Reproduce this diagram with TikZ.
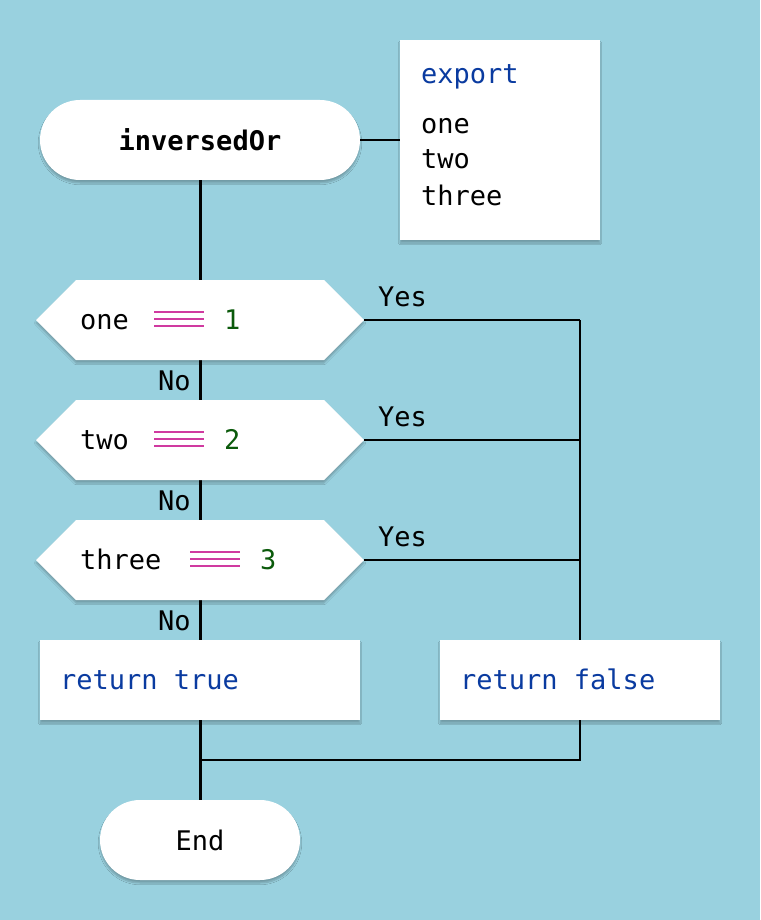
\documentclass[tikz,border=0pt]{standalone}
\usepackage{fontspec}
\setmonofont{DejaVu Sans Mono}
\usetikzlibrary{shadows.blur}
\definecolor{bg}{HTML}{99D1DF}
\definecolor{kw}{HTML}{0A3BA0}
\definecolor{num}{HTML}{0B5A0B}
\definecolor{eqc}{HTML}{D03AA0}
\begin{document}
\begin{tikzpicture}[x=1pt,y=-1pt,font=\ttfamily\fontsize{27}{30}\selectfont,
  shape box/.style={fill=white,blur shadow={shadow blur steps=6,shadow xshift=0pt,shadow yshift=-3pt,shadow opacity=25}},
  thin/.style={line width=1.3pt},
  thick line/.style={line width=3pt},
  lbl/.style={inner sep=0pt,anchor=base west}]
\fill[bg] (0,0) rectangle (760,920);
\useasboundingbox (0,0) rectangle (760,920);
% main line
\coordinate (mtop) at (200,180);
\coordinate (mbot) at (200,800);
\draw[thick line] (mtop)--(mbot);
% start
\node[shape box,rounded corners=40pt,minimum width=320pt,minimum height=80pt,font=\ttfamily\bfseries\fontsize{27}{30}\selectfont] (start) at (200,140) {inversedOr};
% export
\node[shape box,minimum width=200pt,minimum height=200pt] (exp) at (500,140) {};
\node[lbl,text=kw] at (421,84) {export};
\node[lbl] at (421,134) {one};
\node[lbl] at (421,169) {two};
\node[lbl] at (421,205) {three};
\draw[thin] (start.east)--(exp.west);
% decisions
\foreach \n/\yc in {d1/320,d2/440,d3/560}{
  \fill[white,blur shadow={shadow blur steps=6,shadow xshift=0pt,shadow yshift=-3pt,shadow opacity=25}] (36,\yc)--(76,\yc-40)--(324,\yc-40)--(364,\yc)--(324,\yc+40)--(76,\yc+40)--cycle;
  \coordinate (\n-l) at (364,\yc);
  \coordinate (\n-r) at (580,\yc);
  \draw[thin] (\n-l)--(\n-r);
  \node[lbl] at (378,\yc-14) {Yes};
  \node[lbl] at (158,\yc+70) {No};
}
\node[lbl] at (80,329) {one};
\draw[eqc,line width=1.8pt] (154,312)--(204,312) (154,319)--(204,319) (154,326)--(204,326);
\node[lbl,text=num] at (224,329) {1};
\node[lbl] at (80,449) {two};
\draw[eqc,line width=1.8pt] (154,432)--(204,432) (154,439)--(204,439) (154,446)--(204,446);
\node[lbl,text=num] at (224,449) {2};
\node[lbl] at (80,569) {three};
\draw[eqc,line width=1.8pt] (190,552)--(240,552) (190,559)--(240,559) (190,566)--(240,566);
\node[lbl,text=num] at (260,569) {3};
% returns
\node[shape box,minimum width=320pt,minimum height=80pt] (rt) at (200,680) {};
\node[lbl,text=kw] at (60,689) {return true};
\node[shape box,minimum width=280pt,minimum height=80pt] (rf) at (580,680) {};
\node[lbl,text=kw] at (460,689) {return false};
\draw[thin] (d1-r)--(rf.north);
\coordinate (join) at (200,760);
\draw[thin] (rf.south)|-(join);
% end
\node[shape box,rounded corners=40pt,minimum width=200pt,minimum height=80pt] (end) at (200,840) {End};
\end{tikzpicture}
\end{document}
